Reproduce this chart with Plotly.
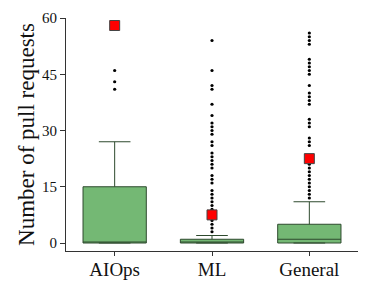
import plotly.graph_objects as go

categories = ["AIOps", "ML", "General"]
q1 = [0, 0, 0]
median = [0, 0, 1]
q3 = [15, 1, 5]
lower_fence = [0, 0, 0]
upper_fence = [27, 2, 11]
means = [58, 7.5, 22.5]

outliers = {
    "AIOps": [41, 43, 46],
    "ML": [3, 4, 5, 6, 7, 8, 9, 10, 11, 12, 13, 14, 16, 17, 18, 20, 21, 22, 23, 24,
           26, 27, 29, 30, 31, 32, 34, 37, 41, 42, 46, 54],
    "General": [12, 13, 14, 15, 16, 17, 18, 19, 20, 21, 23, 26, 27, 28, 31, 32, 33,
                37, 38, 39, 40, 42, 45, 46, 47, 48, 49, 53, 54, 55, 56],
}

y_ticks = [0, 15, 30, 45, 60]

fig = go.Figure()
fig.add_trace(go.Box(
    x=categories, q1=q1, median=median, q3=q3,
    lowerfence=lower_fence, upperfence=upper_fence,
    fillcolor="#74B874", line=dict(color="#2E4A2E", width=1),
    width=0.65, whiskerwidth=0.5, boxpoints=False, showlegend=False,
))

ox, oy = [], []
for c in categories:
    for v in outliers[c]:
        ox.append(c)
        oy.append(v)
fig.add_trace(go.Scatter(
    x=ox, y=oy, mode="markers",
    marker=dict(color="black", size=3.2), showlegend=False,
))
fig.add_trace(go.Scatter(
    x=categories, y=means, mode="markers",
    marker=dict(symbol="square", color="#FF0000", size=10,
                line=dict(color="#444444", width=1)),
    showlegend=False,
))

fig.update_layout(
    width=374, height=286,
    margin=dict(l=58, r=24, t=10, b=43),
    plot_bgcolor="white", paper_bgcolor="white",
    font=dict(family="Liberation Serif", color="#111111"),
)
fig.update_xaxes(
    type="category", categoryorder="array", categoryarray=categories,
    range=[-0.5, 2.5], automargin=False,
    showline=True, linecolor="#333333", linewidth=1,
    ticks="outside", ticklen=4, tickcolor="#333333",
    ticklabelstandoff=-3,
    tickfont=dict(size=19), showgrid=False, zeroline=False,
)
fig.update_yaxes(
    range=[-2.13, 60], tickvals=y_ticks, automargin=False,
    showline=True, linecolor="#333333", linewidth=1,
    ticks="outside", ticklen=5, tickcolor="#333333",
    tickfont=dict(size=15), showgrid=False, zeroline=False,
    title=dict(text="Number of pull requests", font=dict(size=23), standoff=0),
)

fig.write_html("out.html")
